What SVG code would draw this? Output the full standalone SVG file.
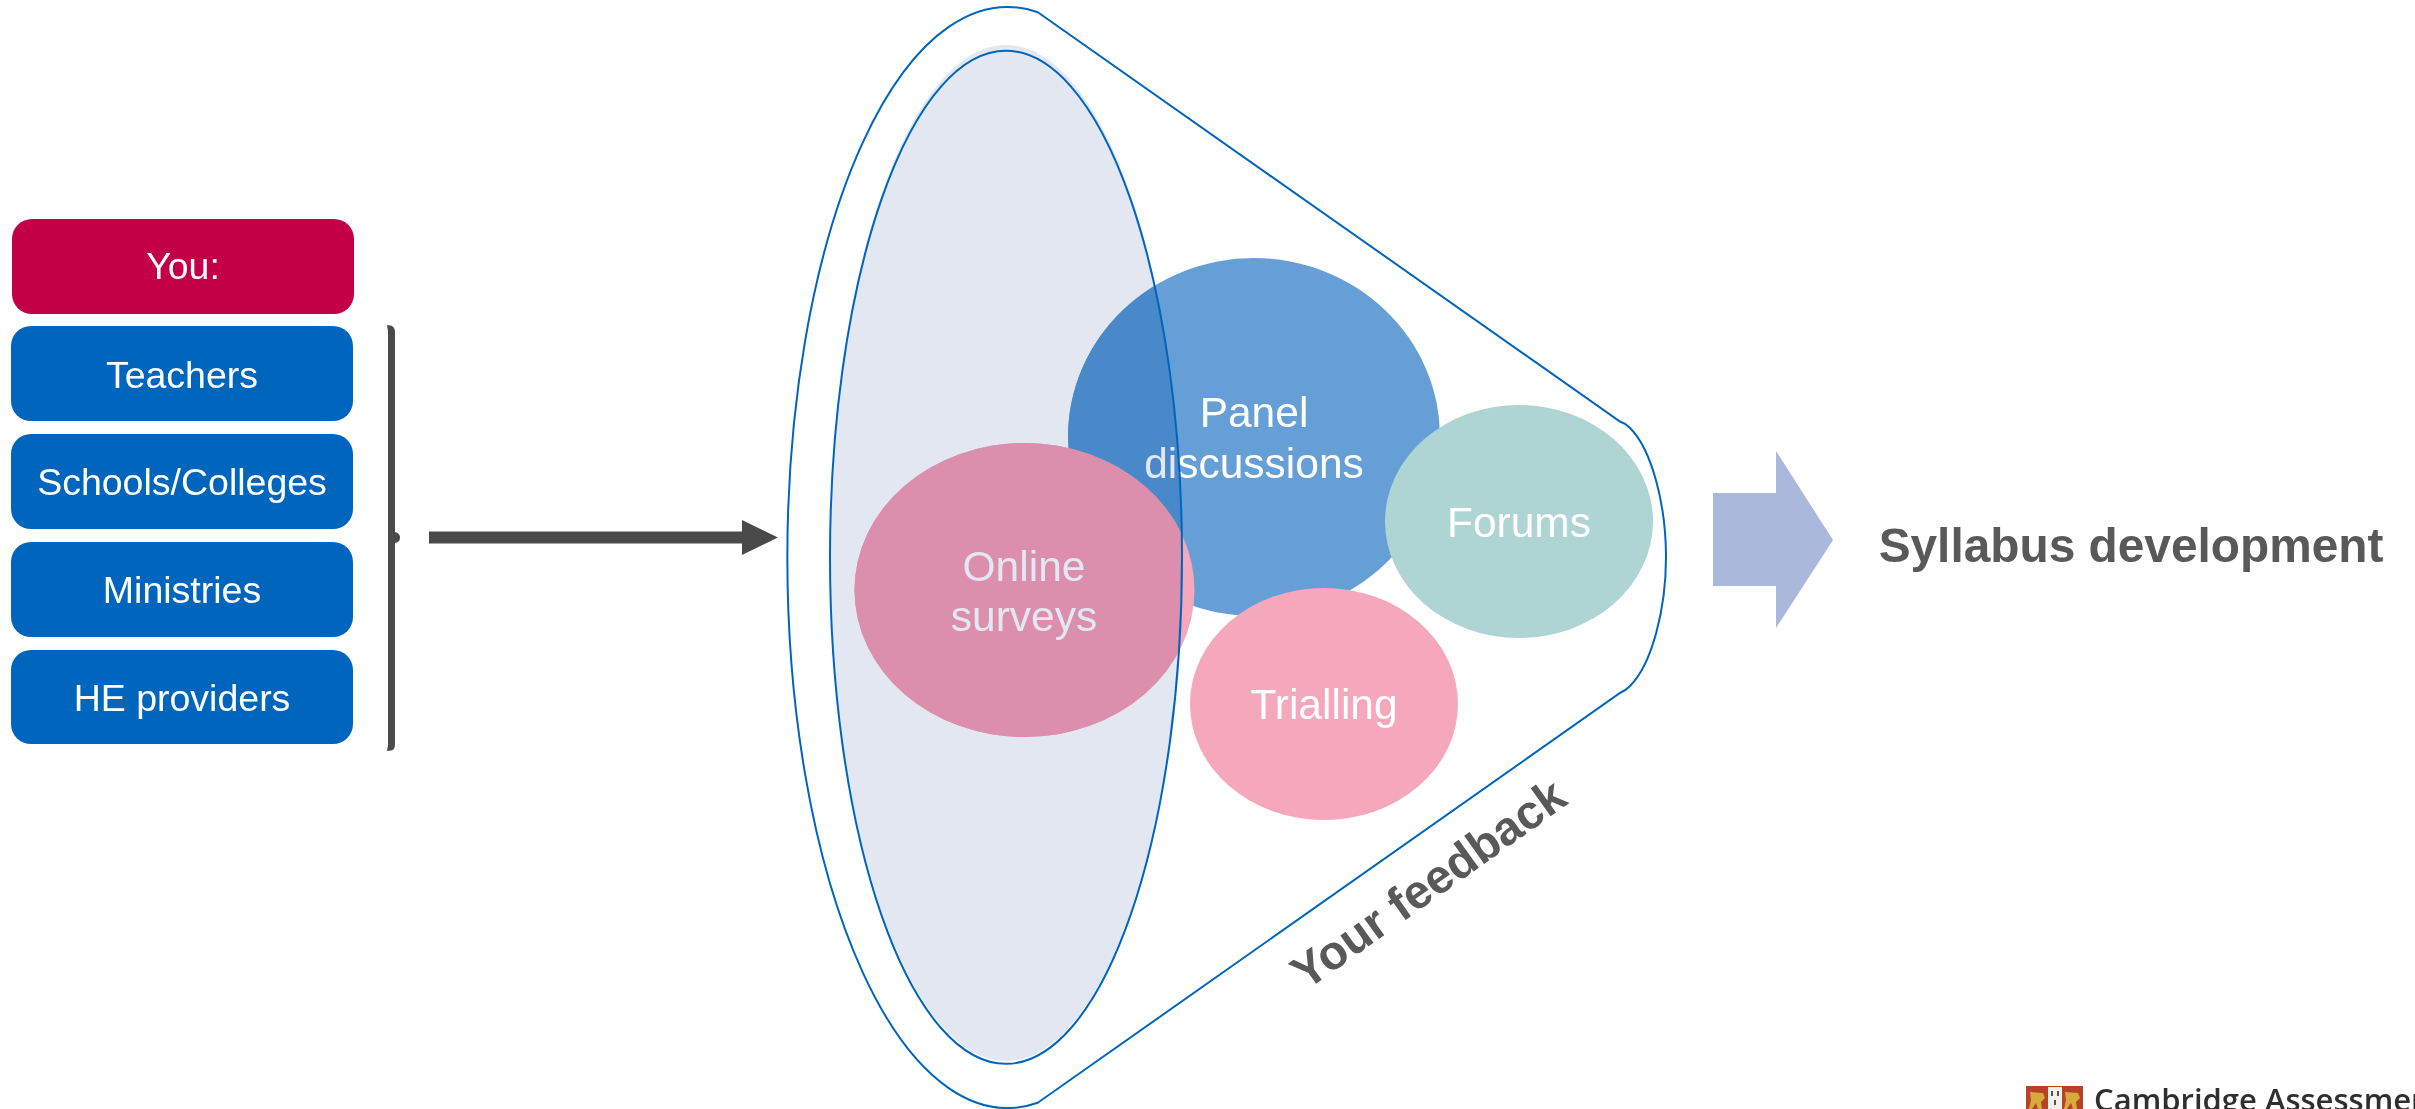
<svg xmlns="http://www.w3.org/2000/svg" width="2415" height="1109" viewBox="0 0 2415 1109">
<style>
text{font-family:"Liberation Sans",Arial,sans-serif;text-anchor:middle}
.lb{fill:#fff;font-size:37.500px}
.bl{fill:#0065bd}
.ci{fill:#fff;font-size:42.500px}
.st{fill:none;stroke:#0065bd;stroke-width:2}
.gr{fill:#595959;font-weight:bold}
</style>
<defs>
<clipPath id="innerClip"><ellipse cx="1006" cy="553" rx="176" ry="508"/></clipPath>
</defs>
<rect width="2415" height="1109" fill="#fff"/>
<g id="you"><rect x="12" y="219" width="342" height="95" rx="20" fill="#c30045"/><text class="lb" x="183" y="279">You:</text></g>
<g id="teachers"><rect class="bl" x="11" y="326" width="342" height="95" rx="20"/><text class="lb" x="182" y="388">Teachers</text></g>
<g id="schools"><rect class="bl" x="11" y="434" width="342" height="95" rx="20"/><text class="lb" x="182" y="495">Schools/Colleges</text></g>
<g id="ministries"><rect class="bl" x="11" y="542" width="342" height="95" rx="20"/><text class="lb" x="182" y="603">Ministries</text></g>
<g id="he-providers"><rect class="bl" x="11" y="650" width="342" height="94" rx="20"/><text class="lb" x="182" y="711">HE providers</text></g>
<g id="connectors">
<path d="M387 325L391 325.500Q395 327 395 332L395 532Q400 533 400 537.500Q400 542 395 543L395 744Q395 750 391 750.500L387 751L388 745L388 331Z" fill="#4a4a4a"/>
<path d="M429 531.500H742V520L778 537.500L742 555V543.500H429Z" fill="#4a4a4a"/>
</g>
<g id="funnel">
<path class="st" d="M1037.800 12.300L1620 421.500Q1625 423 1630 428C1652 450 1666 505 1666 557C1666 609 1652 664 1630 686Q1625 691 1620 693L1037.800 1102.700A220 550.500 0 1 1 1037.800 12.300Z"/>
</g>
<g id="panel"><ellipse cx="1254" cy="437" rx="186" ry="179" fill="#669fd6"/><ellipse cx="1254" cy="437" rx="186" ry="179" fill="#5397d4" clip-path="url(#innerClip)"/></g>
<g id="forums"><ellipse cx="1519" cy="521.500" rx="134" ry="116.500" fill="#aed5d3"/></g>
<g id="trialling"><ellipse cx="1324" cy="704" rx="134" ry="116" fill="#f5a7bc"/></g>
<g id="online"><ellipse cx="1024.500" cy="590" rx="170" ry="147" fill="#f5a7bc"/><ellipse cx="1024.500" cy="590" rx="170" ry="147" fill="#f79eb7" clip-path="url(#innerClip)"/></g>
<g id="labels">
<text class="ci" x="1254" y="427">Panel</text><text class="ci" x="1254" y="478">discussions</text>
<text class="ci" x="1519" y="537">Forums</text>
<text class="ci" x="1324" y="719">Trialling</text>
<text class="ci" x="1024" y="581">Online</text><text class="ci" x="1024" y="631">surveys</text>
</g>
<g id="inner">
<ellipse cx="1006" cy="553" rx="176" ry="508" fill="#e3e7f2" style="mix-blend-mode:multiply"/>
<ellipse class="st" cx="1006" cy="557.300" rx="176" ry="506.500"/>
</g>
<g id="output-arrow"><path d="M1713 493H1776V451L1833 540L1776 628V586H1713Z" fill="#aab8dc"/></g>
<text id="syllabus" class="gr" x="2131" y="562" font-size="47.800">Syllabus development</text>
<text id="feedback" class="gr" font-size="47.500" transform="translate(1306 991) rotate(-35.500)" style="text-anchor:start">Your feedback</text>
<g id="logo">
<rect x="2026" y="1086" width="57" height="23" fill="#b8412a"/>
<rect x="2048" y="1087" width="14" height="22" fill="#f1efe9"/>
<path d="M2030 1092l13 1l2 5l-4 4l1 7h-4l-2-6l-4 6h-3l2-9z M2065 1092l13 1l2 5l-4 4l1 7h-4l-2-6l-4 6h-3l2-9z" fill="#d8aa3c"/>
<path d="M2051 1091h2v5h-2z M2057 1091h2v5h-2z M2054 1100h2v5h-2z" fill="#555"/>
<text x="2094" y="1110.500" font-size="31" font-weight="600" fill="#2f2f2f" style="font-family:'Open Sans',sans-serif;text-anchor:start">Cambridge Assessment</text>
</g>
</svg>
